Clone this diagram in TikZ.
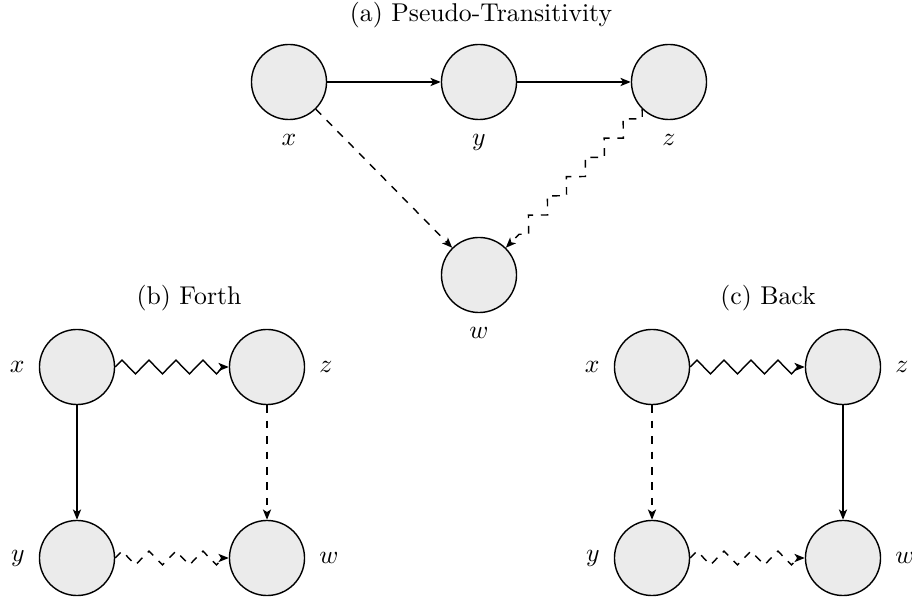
\documentclass[tikz,border=0pt]{standalone}
\usetikzlibrary{arrows.meta,decorations.pathmorphing}
\definecolor{nodefill}{RGB}{235,235,235}
\begin{document}
\begin{tikzpicture}[x=0.389pt,y=-0.389pt,
  state/.style={circle,draw,fill=nodefill,minimum size=29.2pt,inner sep=0pt,line width=0.55pt},
  arr/.style={-{Stealth[length=4pt,width=3.2pt,inset=1pt]},line width=0.55pt},
  zz/.style={decorate,decoration={zigzag,segment length=10.5pt,amplitude=2.65pt,post length=2pt}},
  lab/.style={label distance=2pt},
  ttl/.style={inner sep=0pt}]
\useasboundingbox (0,0) rectangle (912,600);

% (a) Pseudo-Transitivity
\node[ttl] (ta) at (481,15) {(a) Pseudo-Transitivity};
\node[state,label={[lab]below:$x$}] (ax) at (289,82) {};
\node[state,label={[lab]below:$y$}] (ay) at (479,82) {};
\node[state,label={[lab]below:$z$}] (az) at (669,82) {};
\node[state,label={[lab]below:$w$}] (aw) at (479,275) {};
\draw[arr] (ax) -- (ay);
\draw[arr] (ay) -- (az);
\draw[arr,dashed] (ax) -- (aw);
\draw[arr,dashed,zz] (az) -- (aw);

% (b) Forth
\node[ttl] (tb) at (189,298) {(b) Forth};
\node[state,label={[lab]left:$x$}] (bx) at (77,367) {};
\node[state,label={[lab]right:$z$}] (bz) at (267,367) {};
\node[state,label={[lab]left:$y$}] (by) at (77,558) {};
\node[state,label={[lab]right:$w$}] (bw) at (267,558) {};
\draw[arr,zz] (bx) -- (bz);
\draw[arr] (bx) -- (by);
\draw[arr,dashed] (bz) -- (bw);
\draw[arr,dashed,zz] (by) -- (bw);

% (c) Back
\node[ttl] (tc) at (768,298) {(c) Back};
\node[state,label={[lab]left:$x$}] (cx) at (652,367) {};
\node[state,label={[lab]right:$z$}] (cz) at (843,367) {};
\node[state,label={[lab]left:$y$}] (cy) at (652,558) {};
\node[state,label={[lab]right:$w$}] (cw) at (843,558) {};
\draw[arr,zz] (cx) -- (cz);
\draw[arr,dashed] (cx) -- (cy);
\draw[arr] (cz) -- (cw);
\draw[arr,dashed,zz] (cy) -- (cw);
\end{tikzpicture}
\end{document}
